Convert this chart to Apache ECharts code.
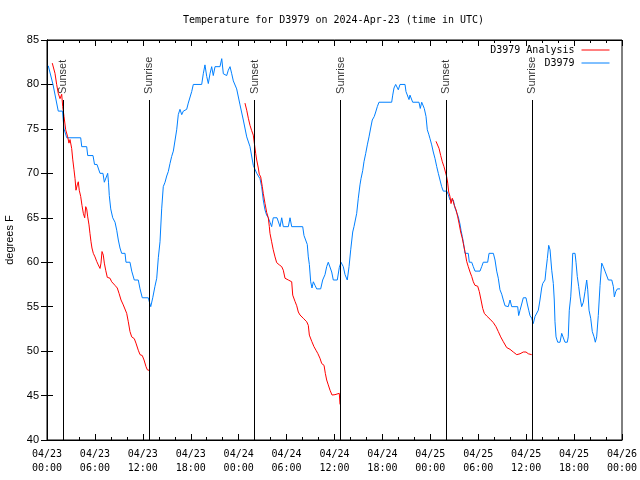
<!DOCTYPE html>
<html>
<head>
<meta charset="utf-8">
<script src="https://cdn.jsdelivr.net/npm/echarts@6/dist/echarts.min.js"></script>
<style>html,body{margin:0;padding:0;background:#fff}#c{width:640px;height:480px}</style>
</head>
<body>
<div id="c"></div>
<script>
// Hours since 2024-04-23 00:00 UTC
const xTickLabels = ['04/23\n00:00','04/23\n06:00','04/23\n12:00','04/23\n18:00','04/24\n00:00','04/24\n06:00','04/24\n12:00','04/24\n18:00','04/25\n00:00','04/25\n06:00','04/25\n12:00','04/25\n18:00','04/26\n00:00'];

const obsHours = [0.16,0.75,1.41,1.94,2.13,2.47,4.22,4.35,4.97,5.10,5.76,5.95,6.26,6.64,7.01,7.18,7.39,7.60,7.70,7.80,7.98,8.23,8.52,8.73,8.93,9.14,9.35,9.77,9.89,10.39,10.61,10.93,11.43,11.65,11.93,12.68,12.83,12.99,13.24,13.52,13.74,13.94,14.15,14.36,14.56,14.78,14.99,15.19,15.40,15.61,15.82,16.24,16.44,16.65,16.87,17.07,17.49,17.69,18.12,18.32,19.37,19.57,19.78,20.00,20.20,20.41,20.62,20.82,21.04,21.66,21.88,22.08,22.50,22.70,22.92,23.13,23.33,23.75,24.17,24.58,25.01,25.42,25.83,26.26,26.67,26.88,27.08,27.29,27.50,27.71,27.92,28.13,28.33,28.80,29.18,29.39,29.59,30.22,30.43,30.64,32.02,32.18,32.43,32.59,32.72,32.85,33.02,33.18,33.35,33.56,33.77,34.27,34.52,34.81,35.02,35.22,35.44,35.65,35.85,36.35,36.60,36.81,37.10,37.32,37.60,37.82,38.03,38.28,38.44,38.66,38.78,38.98,39.19,39.32,39.53,39.69,39.91,40.11,40.32,40.53,40.73,40.98,41.16,41.36,41.57,43.16,43.29,43.45,43.66,43.86,43.99,44.20,44.83,44.95,45.17,45.33,45.45,45.62,45.79,46.58,46.74,46.92,47.12,47.24,47.46,47.62,47.80,47.96,48.17,48.37,48.59,48.80,49.00,49.21,49.42,49.62,50.05,50.25,50.46,50.88,51.09,51.30,51.50,51.71,51.84,52.00,52.13,52.34,52.75,52.88,53.18,53.38,53.59,54.22,54.43,54.63,55.18,55.35,55.89,56.10,56.31,56.51,56.72,56.94,57.14,57.35,57.76,57.98,58.19,58.94,59.06,59.23,59.44,59.64,59.98,60.14,60.32,60.48,60.69,60.89,61.11,61.32,61.52,61.73,61.94,62.07,62.36,62.48,62.65,62.82,62.99,63.20,63.40,63.52,63.61,63.74,63.95,64.24,64.45,64.65,64.86,65.15,65.27,65.40,65.58,65.70,65.83,66.12,66.24,66.40,66.58,66.74,66.95,67.16,67.37,67.58,67.71,67.87,68.08,68.28,68.50,68.66,68.83,69.03,69.25,69.46,69.66,69.87,70.09,70.29,70.72,70.92,71.04,71.22,71.42,71.75];
const obsTemps = [82.1,80,77,77,75,74,74,73,73,72,72,71,71,70,70,69,69,70,69,67.5,66,65,64.5,63.6,62.5,61.6,61,61,60,60,59,58,58,57,56,56,55.5,55,56,57.3,58.2,60.5,62.3,66,68.5,69,69.7,70.2,71.1,71.9,72.5,74.9,76.6,77.2,76.6,77,77.2,77.9,79.2,80,80,81.2,82.2,80.9,80.1,81.2,82,81,82,82,82.9,81.2,81,81.6,82,81.2,80.4,79.5,77.7,76,74.1,73,70.9,70,69.4,68.5,67,65.9,65.3,65,64.5,64,65,65,64,65,64,64,65,64,64,63,63,62,60.6,59.75,57.8,57.1,57.8,57.4,57,57,58,58.6,59.5,60,59.8,58.9,58,58,59.4,60,59.5,58.6,58,59.5,61.4,63.4,64,64,65.5,67.2,68.7,69.4,70.3,71.3,72.25,73.2,74.1,75.1,76,76.4,76.9,77.5,78,78,78.8,79.6,80,80,79.4,80,80,79.2,79,78.3,78.8,79,78,78,77.3,78,78,77.3,76.4,74.9,74.4,73.9,73.2,72.4,71.65,70.75,70,69.25,68.5,68,68,67.6,67,67,66.1,65.6,65.1,64.3,63.6,62.9,62.3,61,61,60,60,59.5,59,59,59.5,60,60,61,61,60.25,59,58.2,56.9,56.4,55.75,55.1,55,55.75,55,55,54,54.6,55.3,56,56,55.3,54.6,54,53.7,53.1,53.9,54,54.6,55.75,57.1,57.6,58,59.1,60.4,61.9,61.4,59.1,57.6,55.75,53.3,51.6,51,51,52,52,51,51,51.6,54.6,56.1,58,61,61,60,58.4,57.25,56.1,55,55.5,56.7,58,56.9,54.6,53.7,52.2,51.6,51,51.6,54,57.4,59.9,59.5,59,58.8,58,58,57.25,56.1,56.7,57,57];

const anaHours = [0.66,0.88,1.00,1.21,1.41,1.63,1.84,1.97,2.13,2.34,2.59,2.75,2.88,3.09,3.22,3.38,3.51,3.63,3.79,3.92,4.04,4.22,4.38,4.55,4.72,4.85,4.97,5.10,5.26,5.38,5.51,5.63,5.80,6.01,6.22,6.42,6.64,6.76,6.89,7.05,7.18,7.35,7.55,7.89,8.10,8.51,8.80,9.02,9.27,9.55,9.80,9.98,10.18,10.39,10.61,10.93,11.14,11.43,11.65,11.93,12.15,12.40,12.56,12.90,
  18.0,
  24.79,25.01,25.21,25.42,25.63,25.83,25.96,26.13,26.26,26.46,26.58,26.76,26.96,27.08,27.30,27.51,27.71,27.84,27.92,28.13,28.33,28.55,28.76,29.09,29.39,29.59,29.80,30.22,30.64,30.77,31.05,31.27,31.47,31.68,32.09,32.52,32.72,32.85,33.15,33.43,33.68,33.90,34.18,34.40,34.69,34.85,35.02,35.22,35.44,35.69,36.06,36.60,36.69,
  42.0,
  48.71,48.87,49.09,49.30,49.50,49.71,49.93,50.05,50.18,50.30,50.46,50.59,50.75,50.88,51.00,51.22,51.43,51.59,51.80,52.00,52.13,52.34,52.55,52.75,52.97,53.18,53.38,53.59,53.93,54.13,54.35,54.56,54.76,55.06,55.47,55.89,56.22,56.51,56.81,57.14,57.56,57.98,58.39,58.82,59.23,59.64,59.98,60.27,60.69];
const anaTemps = [82.4,82.6,81.25,80,79,78.4,78.9,77.5,76.4,74.9,74.1,73.4,73.8,72.8,71.6,70.4,69.4,68.1,68.7,69.05,68.1,67.4,66.4,65.5,65,66.25,66,65.1,64.2,63.25,62.3,61.6,61,60.6,60.1,59.7,59.3,59.9,61.2,60.8,59.9,59.1,58.3,58.2,57.8,57.4,57.1,56.5,55.75,55.2,55,54.25,53.3,52.2,51.6,51.4,50.9,50.1,49.6,49.5,49,48.25,47.9,47.8,
  null,
  77.9,77.1,76.2,75.4,74.8,74.3,73.4,72.25,71.5,70.6,69.9,69.6,68.5,67.75,66.6,65.6,65,64,63.25,62.3,61.4,60.6,59.95,59.7,59.5,59.1,58.2,58,57.8,56.3,55.6,55.1,54.4,54.06,53.7,53.3,52.9,51.8,51.1,50.5,50.1,49.75,49.2,48.6,48.4,47.5,46.75,46.2,45.6,45.06,45.1,45.25,44,
  null,
  73.6,73.75,72.8,72,71.3,70.75,70.75,69.6,68.9,67.9,67.4,66.6,67.2,67,66.4,65.9,65.1,64.4,63.4,62.7,62.1,61.2,60.1,59.5,58.9,58.4,57.8,57.4,57.3,56.7,55.75,54.8,54.25,53.95,53.6,53.2,52.75,52.2,51.6,51.06,50.4,50.2,49.9,49.6,49.7,49.9,49.9,49.7,49.6];

const sunHours = [2.0,12.8,26.0,36.75,50.0,60.7];
const sunNames = ['Sunset','Sunrise','Sunset','Sunrise','Sunset','Sunrise'];

const SUN_TOP = 78.25;
const obsData = obsHours.map((h,i)=>[h,obsTemps[i]]);
const anaData = anaHours.map((h,i)=>[h,anaTemps[i]]);
const sunLines = sunHours.map(h=>[{coord:[h,SUN_TOP]},{coord:[h,40]}]);
const sunLabelData = sunHours.map((h,i)=>({value:[h,SUN_TOP],name:sunNames[i]}));

const mono = 'DejaVu Sans Mono';
const sans = 'Liberation Sans';
const chart = echarts.init(document.getElementById('c'), null, {renderer:'canvas'});
const xCommon = {type:'value',min:0,max:72,interval:6,splitLine:{show:false},
  axisLine:{lineStyle:{color:'#000',width:1}},
  axisTick:{inside:true,length:6,lineStyle:{color:'#000'}},
  minorTick:{show:true,splitNumber:3,length:3,lineStyle:{color:'#000'}},
  minorSplitLine:{show:false}};
const yCommon = {type:'value',min:40,max:85,interval:5,splitLine:{show:false},
  axisLine:{lineStyle:{color:'#000',width:1}},
  axisTick:{inside:true,length:6,lineStyle:{color:'#000'}}};
chart.setOption({
  animation:false,
  backgroundColor:'#fff',
  title:{text:'Temperature for D3979 on 2024-Apr-23 (time in UTC)',left:183,top:15,padding:0,
    textStyle:{fontFamily:mono,fontSize:10,fontWeight:'normal',color:'#000'}},
  legend:{data:['D3979 Analysis','D3979'],orient:'vertical',align:'right',right:30,top:45,padding:0,
    itemWidth:28,itemHeight:10,itemGap:3,itemStyle:{opacity:0},
    lineStyle:{width:1},
    textStyle:{fontFamily:mono,fontSize:10,color:'#000',padding:[0,2,0,0]}},
  grid:{left:47,right:18,top:40,bottom:40,containLabel:false,outerBoundsMode:'none',
    show:true,borderColor:'#000',borderWidth:1,backgroundColor:'transparent'},
  xAxis:[
    Object.assign({},xCommon,{position:'bottom',
      axisLabel:{margin:7,fontFamily:mono,fontSize:10,color:'#000',lineHeight:14,
        formatter:(v)=>xTickLabels[Math.round(v/6)]}}),
    Object.assign({},xCommon,{position:'top',axisLabel:{show:false}})
  ],
  yAxis:[
    Object.assign({},yCommon,{position:'left',name:'degrees F',nameLocation:'middle',nameGap:32,
      nameTextStyle:{fontFamily:sans,fontSize:11,color:'#000'},
      axisLabel:{margin:8,fontFamily:sans,fontSize:11,color:'#000'}}),
    Object.assign({},yCommon,{position:'right',axisLabel:{show:false}})
  ],
  series:[
    {name:'D3979 Analysis',type:'line',data:anaData,showSymbol:false,symbol:'none',connectNulls:false,
      color:'#ff0000',lineStyle:{color:'#ff0000',width:1},z:3},
    {name:'D3979',type:'line',data:obsData,showSymbol:false,symbol:'none',
      color:'#0080ff',lineStyle:{color:'#0080ff',width:1},z:2,
      markLine:{silent:true,symbol:['none','none'],lineStyle:{color:'#000',width:1,type:'solid'},
        label:{show:false},data:sunLines}},
    {name:'sun',type:'scatter',data:sunLabelData,symbolSize:0.1,silent:true,
      label:{show:true,formatter:p=>p.name,rotate:90,position:'top',distance:7,offset:[-1,0],
        align:'left',verticalAlign:'middle',fontFamily:sans,fontSize:11,color:'#000'}}
  ]
});
</script>
</body>
</html>
